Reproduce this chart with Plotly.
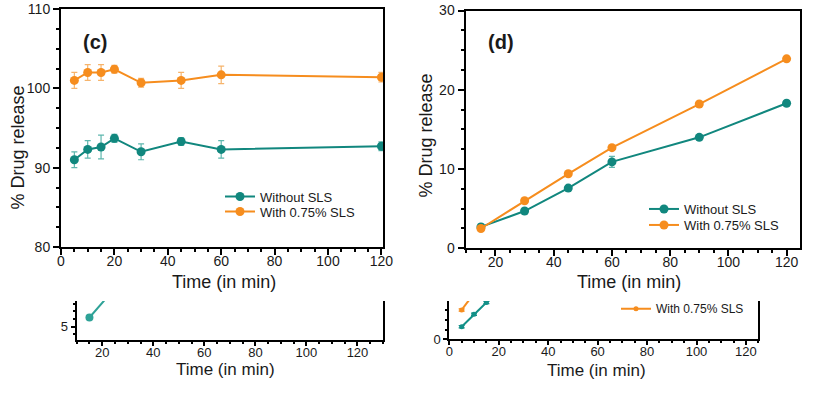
import plotly.graph_objects as go

# ---------------- data ----------------
time_c = [5, 10, 15, 20, 30, 45, 60, 120]
c_without = [91.0, 92.3, 92.6, 93.7, 92.0, 93.3, 92.3, 92.7]
c_without_err = [1.0, 1.1, 1.5, 0.5, 1.0, 0.5, 1.1, 0.55]
c_with = [101.0, 102.0, 102.0, 102.4, 100.7, 101.0, 101.7, 101.4]
c_with_err = [1.0, 1.0, 1.0, 0.5, 0.55, 1.0, 1.1, 0.6]

time_d = [15, 30, 45, 60, 90, 120]
d_without = [2.7, 4.7, 7.6, 10.9, 14.0, 18.3]
d_without_err = [0.35, 0.25, 0.3, 0.7, 0.3, 0.3]
d_with = [2.5, 6.0, 9.4, 12.7, 18.2, 23.9]
d_with_err = [0.3, 0.25, 0.2, 0.25, 0.3, 0.3]

# partially visible lower panels
time_e = [15, 30]
e_without = [6.5, 13.7]
time_f = [5, 10, 15, 20]
f_without = [6.5, 12.9, 18.9, 24.5]
f_without_err = [0.6, 0.6, 0.6, 0.6]
time_f_with = [5, 10]
f_with = [15.1, 23.6]
f_with_err = [0.6, 0.6]

series_names = ["Without SLS", "With 0.75% SLS"]
x_title = "Time (in min)"
y_title = "% Drug release"
panel_labels = ["(c)", "(d)"]

TEAL = "#11877e"
TEAL_ERR = "#5fb7ae"
ORANGE = "#f68d1e"
ORANGE_ERR = "#f6b46c"
FONT = "Liberation Sans, Arial, sans-serif"
INK = "#1a1a1a"

W, H = 816, 397


def px_x(p):
    return p / W


def px_y(p):
    return 1 - p / H


fig = go.Figure()


def add_series(x, y, err, color, errcolor, name, xa, ya, legend, showlegend, msize=9):
    fig.add_trace(go.Scatter(
        x=x, y=y, name=name, mode="lines+markers",
        xaxis=xa, yaxis=ya, legend=legend, showlegend=showlegend,
        line=dict(color=color, width=2),
        marker=dict(color=color, size=msize),
        error_y=dict(type="data", array=err if err is not None else [0] * len(y),
                     visible=err is not None, color=errcolor, thickness=1.2, width=3),
    ))


# panel (c)
add_series(time_c, c_without, c_without_err, TEAL, TEAL_ERR, series_names[0], "x", "y", "legend", True)
add_series(time_c, c_with, c_with_err, ORANGE, ORANGE_ERR, series_names[1], "x", "y", "legend2", True)
# panel (d)
add_series(time_d, d_without, d_without_err, TEAL, TEAL_ERR, series_names[0], "x2", "y2", "legend3", True)
add_series(time_d, d_with, d_with_err, ORANGE, ORANGE_ERR, series_names[1], "x2", "y2", "legend4", True)
# lower-left partial panel
add_series(time_e, e_without, None, "#2ea297", TEAL_ERR, series_names[0], "x3", "y3", "legend", False, msize=8)
# lower-right partial panel
add_series(time_f, f_without, f_without_err, "#139088", "#139088", series_names[0], "x4", "y4", "legend5", False, msize=5)
add_series(time_f_with, f_with, f_with_err, ORANGE, ORANGE, series_names[1], "x4", "y4", "legend5", True, msize=5)

axis_common = dict(
    showline=True, linecolor="black", linewidth=2, showgrid=False, zeroline=False,
    ticks="outside", ticklen=6, tickwidth=1.5, tickcolor="black", automargin=False,
    tickfont=dict(family=FONT, size=14, color=INK),
)
minor_out = dict(ticks="outside", ticklen=3, tickcolor="black", tickwidth=1.5)
minor_in = dict(ticks="inside", ticklen=3, tickcolor="black", tickwidth=1.5)

layout = dict(
    width=W, height=H, margin=dict(l=0, r=0, t=0, b=0, autoexpand=False),
    plot_bgcolor="white", paper_bgcolor="white",
    font=dict(family=FONT, color=INK),
)

# ---- panel (c) axes ----
layout["xaxis"] = dict(axis_common, domain=[px_x(61), px_x(383)], range=[0, 120.6], anchor="y",
                       tick0=0, dtick=20, mirror=True, minor=dict(minor_out, dtick=5),
                       ticklabelstandoff=-6)
layout["yaxis"] = dict(axis_common, domain=[px_y(247), px_y(9)], range=[80, 110], anchor="x",
                       tick0=80, dtick=10, mirror=True, minor=dict(minor_out, dtick=2.5))
layout["xaxis5"] = dict(overlaying="x", anchor="y", side="top", range=[0, 120.6], showline=False,
                        showgrid=False, zeroline=False, showticklabels=False, ticks="inside",
                        tick0=0, dtick=20, ticklen=6, tickwidth=1.5, tickcolor="black", automargin=False,
                        minor=dict(minor_in, dtick=5))

# ---- panel (d) axes ----
layout["xaxis2"] = dict(axis_common, domain=[px_x(465.5), px_x(800)], range=[9.7, 124.6], anchor="y2",
                        tick0=0, dtick=20, mirror=True, minor=dict(minor_out, dtick=5),
                        ticklabelstandoff=-6)
layout["yaxis2"] = dict(axis_common, domain=[px_y(248.3), px_y(10.5)], range=[0, 30], anchor="x2",
                        tick0=0, dtick=10, mirror=True, minor=dict(minor_out, dtick=2.5))
layout["xaxis6"] = dict(overlaying="x2", anchor="y2", side="top", range=[9.7, 124.6], showline=False,
                        showgrid=False, zeroline=False, showticklabels=False, ticks="inside",
                        tick0=0, dtick=20, ticklen=6, tickwidth=1.5, tickcolor="black", automargin=False,
                        minor=dict(minor_in, dtick=10))

small_common = dict(axis_common, tickfont=dict(family=FONT, size=13, color=INK), ticklen=4)

# ---- lower-left partial panel ----
layout["xaxis3"] = dict(small_common, domain=[px_x(76.7), px_x(383)], range=[10, 130], anchor="y3",
                        tick0=0, dtick=20, mirror=False, minor=dict(minor_out, dtick=5, ticklen=2),
                        ticklabelstandoff=-5)
layout["yaxis3"] = dict(small_common, domain=[px_y(340), px_y(301)], range=[2.82, 9.2], anchor="x3",
                        tick0=0, dtick=5, mirror=True, minor=dict(minor_out, dtick=1.25, ticklen=2))

# ---- lower-right partial panel ----
layout["xaxis4"] = dict(small_common, domain=[px_x(449.3), px_x(758.3)], range=[0, 125], anchor="y4",
                        tick0=0, dtick=20, mirror=False, minor=dict(minor_out, dtick=5, ticklen=2),
                        ticklabelstandoff=-5)
layout["yaxis4"] = dict(small_common, domain=[px_y(339.3), px_y(301)], range=[0, 19.7], anchor="x4",
                        tick0=0, dtick=20, mirror=True, minor=dict(minor_out, dtick=5, ticklen=2))

leg_common = dict(bgcolor="rgba(0,0,0,0)", borderwidth=0, xanchor="left", yanchor="top",
                  font=dict(family=FONT, size=13, color=INK), itemwidth=30)
# one legend per entry so that entry spacing matches the original
layout["legend"] = dict(leg_common, x=px_x(220), y=px_y(194.5 - 13))
layout["legend2"] = dict(leg_common, x=px_x(220), y=px_y(209.5 - 13))
layout["legend3"] = dict(leg_common, x=px_x(644), y=px_y(207 - 13))
layout["legend4"] = dict(leg_common, x=px_x(644), y=px_y(223 - 13))
layout["legend5"] = dict(leg_common, x=px_x(616), y=px_y(306.3 - 12),
                         font=dict(family=FONT, size=12, color=INK))


def label(text, x, y, size, angle=0, bold=False):
    return dict(text=f"<b>{text}</b>" if bold else text, x=px_x(x), y=px_y(y),
                xref="paper", yref="paper", xanchor="center", yanchor="middle",
                showarrow=False, textangle=angle, font=dict(family=FONT, size=size, color=INK))


layout["annotations"] = [
    label(panel_labels[0], 95, 42, 20, bold=True),
    label(panel_labels[1], 501, 42, 20, bold=True),
    label(x_title, 223.5, 282, 18),
    label(x_title, 628.5, 282, 18),
    label(y_title, 17.5, 148, 18, angle=-90),
    label(y_title, 425.5, 136, 18, angle=-90),
    label(x_title, 225, 369, 17),
    label(x_title, 596, 370, 17),
]

fig.update_layout(**layout)
fig.write_html("out.html", post_script="document.body.style.margin='0';",
               config={"displayModeBar": False})
